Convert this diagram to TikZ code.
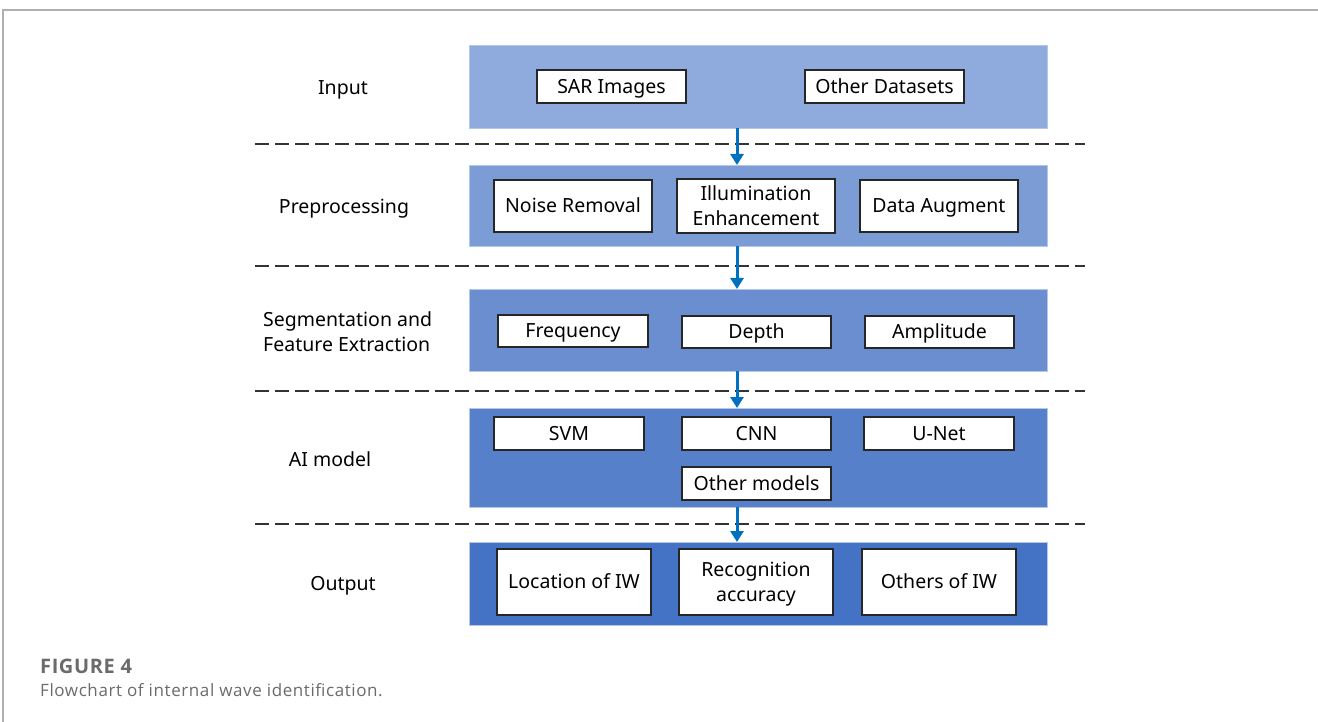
\documentclass[tikz,border=0pt]{standalone}
\usepackage{fontspec}
\setmainfont{Noto Sans}
\newfontfamily\capfont{Open Sans}
\usetikzlibrary{arrows.meta}

\definecolor{bandA}{HTML}{8FAADC}
\definecolor{bandB}{HTML}{7C9CD6}
\definecolor{bandC}{HTML}{6A8ED0}
\definecolor{bandD}{HTML}{5780CA}
\definecolor{bandE}{HTML}{4472C4}
\definecolor{bandedge}{HTML}{B4C7E7}
\definecolor{flowblue}{HTML}{0070C0}
\definecolor{framegray}{HTML}{B0B0B0}
\definecolor{capgray}{HTML}{6B6B6B}

\tikzset{
  band/.style={rectangle, draw=bandedge, line width=0.8pt, minimum width=578pt, inner sep=0pt},
  % text height = cap height, so capitals sit centred in each box
  itembox/.style={rectangle, draw=black!85, line width=1.3pt, fill=white, inner sep=0pt,
    font=\fontsize{19.5}{25}\selectfont, align=center, text height=13.9pt, text depth=0pt},
  % two lines: from the caps of the first line to the baseline of the last
  twoline/.style={text height=38.9pt, text depth=0pt},
  stagelabel/.style={font=\fontsize{19.5}{25}\selectfont, align=left, inner sep=0pt,
    text height=13.9pt, text depth=0pt},
  divider/.style={draw=black!80, line width=1.8pt, dash pattern=on 14pt off 6pt},
  flow/.style={draw=flowblue, line width=3pt, -{Triangle[width=13pt,length=11pt]}},
}

\begin{document}
\begin{tikzpicture}[x=1pt,y=-1pt]
\useasboundingbox (0,0) rectangle (1318,722);
\fill[white] (0,0) rectangle (1318,722);

% page frame
\draw[framegray, line width=1.5pt] (3,722) -- (3,10) -- (1318,10);

% stage bands
\node[band, fill=bandA, minimum height=83pt] (bin)  at (758,86.5) {};
\node[band, fill=bandB, minimum height=81pt] (bpre) at (758,205.5) {};
\node[band, fill=bandC, minimum height=82pt] (bseg) at (758,330) {};
\node[band, fill=bandD, minimum height=99pt] (bai)  at (758,457.5) {};
\node[band, fill=bandE, minimum height=83pt] (bout) at (758,583.5) {};

% stage names
\node[stagelabel] (lin)  at (343,87.5)  {Input};
\node[stagelabel] (lpre) at (344,206.5) {Preprocessing};
\node[stagelabel, twoline, anchor=west] (lseg) at (263,332) {Segmentation and\\Feature Extraction};
\node[stagelabel] (lai)  at (330,460) {AI model};
\node[stagelabel] (lout) at (343,584) {Output};

% input
\node[itembox, minimum width=149pt, minimum height=33pt] (sar) at (611.5,86.5) {SAR Images};
\node[itembox, minimum width=159pt, minimum height=33pt] (oth) at (884.5,86.5) {Other Datasets};

% preprocessing
\node[itembox, minimum width=158pt, minimum height=52pt] (noise) at (573,206) {Noise Removal};
\node[itembox, twoline, minimum width=158pt, minimum height=54pt] (illum) at (756,206) {Illumination\\Enhancement};
\node[itembox, minimum width=158pt, minimum height=52pt] (aug)   at (939,206) {Data Augment};

% segmentation and features
\node[itembox, minimum width=150pt, minimum height=32pt] (freq)  at (573,331)   {Frequency};
\node[itembox, minimum width=149pt, minimum height=32pt] (depth) at (756.5,332) {Depth};
\node[itembox, minimum width=149pt, minimum height=32pt] (amp)   at (939.5,332) {Amplitude};

% models
\node[itembox, minimum width=150pt, minimum height=33pt] (svm)  at (569,433.5)   {SVM};
\node[itembox, minimum width=149pt, minimum height=33pt] (cnn)  at (756.5,433.5) {CNN};
\node[itembox, minimum width=150pt, minimum height=33pt] (unet) at (939,433.5)   {U-Net};
\node[itembox, minimum width=149pt, minimum height=33pt] (omod) at (756.5,483.5) {Other models};

% outputs
\node[itembox, minimum width=154pt, minimum height=66pt] (loc) at (574,582) {Location of IW};
\node[itembox, twoline, minimum width=154pt, minimum height=66pt] (acc) at (756,582) {Recognition\\accuracy};
\node[itembox, minimum width=154pt, minimum height=66pt] (oiw) at (939,582) {Others of IW};

% dashed stage separators
\foreach \yy in {144,266,391,524}
  \draw[divider] (255,\yy) -- (1085,\yy);

% flow between stages
\coordinate (a1) at (737,128);  \coordinate (b1) at (737,165);
\coordinate (a2) at (737,246);  \coordinate (b2) at (737,289);
\coordinate (a3) at (737,371);  \coordinate (b3) at (737,408);
\coordinate (a4) at (737,507);  \coordinate (b4) at (737,542);
\draw[flow] (a1) -- (b1);
\draw[flow] (a2) -- (b2);
\draw[flow] (a3) -- (b3);
\draw[flow] (a4) -- (b4);

% caption
\node[anchor=base west, inner sep=0pt, text=capgray,
  font=\capfont\bfseries\addfontfeature{LetterSpace=3}\fontsize{20}{22}\selectfont] (fig) at (40,673) {FIGURE 4};
\node[anchor=base west, inner sep=0pt, text=capgray,
  font=\capfont\addfontfeature{LetterSpace=3.5}\fontsize{17}{20}\selectfont] (cap) at (40,696) {Flowchart of internal wave identification.};
\end{tikzpicture}
\end{document}
